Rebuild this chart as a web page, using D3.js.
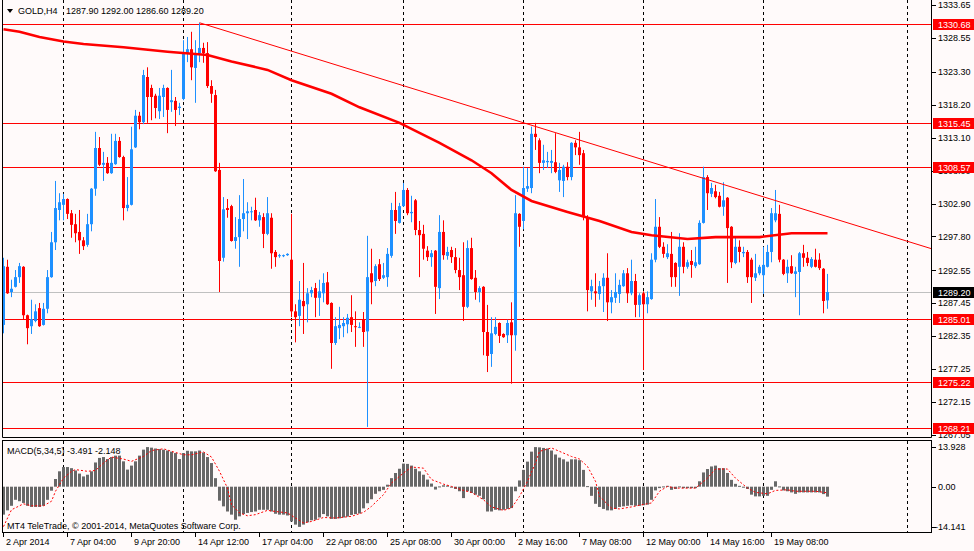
<!DOCTYPE html>
<html>
<head>
<meta charset="utf-8">
<script src="https://cdn.jsdelivr.net/npm/d3@7"></script>
<style>
body { margin: 0; background: #fffafa; }
svg text { font-family: "Liberation Sans", Arial, sans-serif; font-size: 9px; fill: #000; }
</style>
</head>
<body>
<svg id="chart" width="974" height="551"></svg>
<script>
// GOLD,H4 candles, one row per bar: [open, high, low, close].
const candles = [
[1284.1,1294.5,1282.8,1293.2],[1293.1,1294.2,1288.9,1289.0],[1289.2,1291.1,1288.4,1289.7],[1290.0,1292.6,1289.9,1291.5],
[1291.5,1293.7,1290.6,1293.2],[1293.1,1293.2,1285.0,1285.6],[1285.6,1285.7,1281.1,1283.6],[1283.9,1288.0,1282.7,1285.0],
[1284.7,1287.3,1284.5,1286.2],[1286.7,1287.5,1283.8,1283.9],[1284.1,1287.5,1284.0,1286.6],[1286.6,1292.6,1285.9,1291.5],
[1291.5,1298.5,1291.4,1296.9],[1296.9,1306.4,1295.7,1302.2],[1301.9,1304.5,1300.3,1303.1],[1302.7,1304.4,1300.3,1303.6],
[1303.6,1303.7,1300.5,1301.3],[1301.4,1301.9,1297.6,1299.6],[1299.7,1301.3,1296.9,1298.3],[1298.5,1301.9,1295.1,1297.2],
[1297.2,1297.7,1295.7,1296.3],[1296.5,1301.3,1296.2,1299.7],[1299.7,1305.3,1298.6,1305.2],[1305.2,1314.0,1304.1,1311.5],
[1311.5,1313.2,1308.7,1308.9],[1308.9,1310.9,1306.4,1309.2],[1309.2,1310.1,1307.5,1307.6],[1307.6,1313.7,1307.5,1309.2],
[1309.0,1313.7,1308.9,1312.6],[1312.6,1313.2,1310.0,1310.1],[1310.1,1310.3,1300.3,1302.2],[1302.2,1307.0,1301.7,1302.7],
[1302.7,1314.8,1302.6,1311.3],[1311.6,1317.4,1311.5,1316.5],[1316.5,1317.1,1314.4,1315.5],[1315.5,1323.6,1315.2,1322.8],
[1322.5,1324.0,1315.4,1319.4],[1320.8,1321.3,1315.8,1319.4],[1319.6,1319.9,1316.1,1317.7],[1317.2,1320.8,1316.0,1319.6],
[1319.4,1321.3,1316.3,1320.8],[1320.8,1320.9,1313.8,1317.4],[1318.6,1323.6,1317.1,1318.9],[1318.8,1319.4,1314.9,1317.4],
[1317.7,1318.5,1316.6,1317.9],[1319.1,1328.2,1318.9,1326.2],[1326.2,1328.7,1324.8,1326.8],[1326.8,1329.5,1322.0,1324.0],
[1323.9,1328.2,1318.5,1325.9],[1326.2,1330.9,1324.8,1327.0],[1327.0,1327.8,1324.7,1326.2],[1326.2,1327.9,1320.8,1321.1],
[1321.1,1322.0,1318.5,1319.9],[1319.7,1320.5,1307.8,1307.9],[1308.1,1309.2,1289.2,1294.0],[1294.5,1303.9,1293.9,1302.0],
[1302.2,1303.6,1300.7,1301.9],[1302.5,1302.7,1297.0,1297.1],[1297.1,1300.8,1295.9,1297.7],[1297.7,1304.2,1293.1,1300.5],
[1300.5,1306.7,1298.6,1301.4],[1301.4,1303.1,1297.4,1301.7],[1301.6,1302.4,1300.3,1301.7],[1301.9,1303.8,1300.2,1300.3],
[1300.3,1301.6,1299.3,1301.1],[1300.8,1301.4,1296.0,1298.2],[1298.2,1303.9,1298.0,1301.4],[1300.7,1301.4,1292.8,1295.2],
[1295.4,1295.7,1293.1,1294.6],[1294.8,1295.1,1294.5,1294.9],[1294.8,1295.0,1294.6,1294.9],[1294.9,1295.2,1294.8,1295.1],
[1294.2,1301.3,1285.3,1286.2],[1286.2,1287.3,1281.4,1285.3],[1285.5,1290.9,1283.9,1288.0],[1287.8,1293.7,1282.7,1287.0],
[1287.3,1289.8,1284.5,1289.0],[1289.0,1290.0,1288.4,1289.5],[1289.8,1290.6,1285.3,1288.3],[1288.3,1291.1,1285.5,1289.3],
[1289.0,1292.1,1287.6,1290.6],[1290.7,1292.3,1287.2,1287.3],[1287.5,1287.6,1277.3,1281.3],[1281.3,1285.3,1281.0,1283.9],
[1283.6,1286.9,1281.9,1284.1],[1283.9,1285.3,1282.2,1284.4],[1284.2,1285.8,1282.8,1285.2],[1285.3,1288.7,1283.0,1284.1],
[1283.9,1286.2,1280.7,1283.8],[1283.7,1284.5,1283.6,1283.8],[1285.0,1286.1,1280.7,1283.0],[1283.1,1297.9,1268.3,1291.5],
[1292.1,1295.9,1287.3,1290.7],[1290.9,1293.5,1290.1,1293.2],[1293.5,1294.3,1290.9,1291.2],[1291.4,1293.7,1291.2,1291.8],
[1291.5,1296.0,1290.0,1295.1],[1294.8,1303.0,1294.5,1301.9],[1301.9,1304.7,1298.2,1300.2],[1299.9,1303.0,1299.8,1302.5],
[1302.5,1306.1,1302.4,1305.0],[1305.0,1305.3,1301.1,1301.4],[1301.4,1304.1,1300.0,1301.6],[1303.4,1303.6,1298.0,1298.8],
[1298.8,1300.2,1291.5,1298.0],[1298.2,1299.6,1294.2,1295.9],[1295.6,1296.3,1294.0,1294.6],[1294.6,1295.7,1293.1,1295.2],
[1295.6,1295.7,1285.8,1290.0],[1289.8,1301.1,1288.1,1298.5],[1298.5,1300.3,1294.2,1294.9],[1294.8,1296.2,1294.2,1295.4],
[1295.7,1296.2,1293.7,1294.6],[1294.6,1296.0,1292.1,1292.6],[1292.6,1294.5,1289.5,1291.5],[1291.8,1296.9,1284.7,1286.9],
[1286.9,1297.2,1286.7,1296.0],[1296.0,1297.6,1291.1,1291.2],[1291.4,1292.6,1288.0,1289.2],[1289.2,1290.1,1287.6,1289.8],
[1290.0,1290.1,1279.4,1283.0],[1283.0,1287.2,1276.8,1279.3],[1279.6,1285.3,1277.6,1282.8],[1282.7,1285.3,1282.5,1283.8],
[1284.4,1284.5,1281.3,1282.4],[1282.7,1282.8,1282.1,1282.2],[1282.5,1284.9,1281.3,1284.4],[1284.5,1287.6,1275.0,1282.5],
[1282.5,1304.2,1280.1,1301.4],[1301.3,1301.4,1296.2,1299.3],[1300.2,1308.6,1298.9,1305.3],[1305.2,1308.4,1304.7,1305.6],
[1305.3,1314.8,1304.5,1313.7],[1313.7,1315.4,1311.2,1313.2],[1312.7,1313.0,1307.6,1309.2],[1309.2,1312.0,1308.1,1309.6],
[1309.3,1310.9,1308.4,1309.5],[1309.2,1311.2,1307.6,1309.5],[1309.3,1313.8,1307.6,1307.8],[1306.5,1309.2,1304.7,1308.1],
[1306.4,1308.9,1303.9,1308.6],[1308.6,1309.3,1306.5,1307.0],[1307.0,1312.4,1306.5,1312.3],[1312.3,1312.7,1310.4,1311.6],
[1311.6,1314.0,1308.9,1310.4],[1310.7,1311.2,1300.3,1300.8],[1300.8,1301.1,1286.2,1289.5],[1289.3,1291.1,1288.0,1290.1],
[1289.3,1292.1,1286.9,1289.0],[1288.9,1290.9,1288.0,1290.1],[1290.1,1292.1,1286.1,1291.4],[1291.4,1295.2,1284.7,1287.6],
[1287.6,1289.5,1285.9,1288.4],[1288.3,1292.1,1287.5,1289.2],[1288.9,1291.1,1287.5,1290.3],[1290.1,1292.6,1290.0,1292.1],
[1292.1,1292.9,1287.5,1289.0],[1289.0,1294.2,1288.7,1290.9],[1290.9,1292.0,1285.3,1287.2],[1287.2,1289.0,1285.3,1288.7],
[1289.0,1289.3,1277.1,1287.3],[1287.3,1289.3,1285.9,1288.4],[1288.1,1295.2,1288.0,1294.2],[1294.2,1303.6,1293.8,1299.3],
[1299.3,1300.8,1296.0,1296.2],[1296.2,1296.9,1294.5,1295.1],[1294.6,1296.6,1294.3,1295.2],[1295.1,1298.5,1290.0,1291.5],
[1293.7,1293.8,1290.0,1291.5],[1293.1,1298.3,1288.6,1296.2],[1296.2,1296.9,1292.1,1293.1],[1293.1,1294.2,1292.8,1293.8],
[1294.0,1295.7,1291.4,1293.4],[1293.2,1296.2,1292.9,1293.8],[1293.5,1300.3,1293.4,1299.9],[1299.9,1308.6,1299.8,1307.0],
[1307.0,1307.3,1301.9,1304.5],[1304.4,1306.1,1303.9,1305.3],[1304.8,1305.8,1303.7,1303.9],[1304.1,1304.7,1302.3,1302.4],
[1302.4,1306.2,1301.0,1303.4],[1303.8,1303.9,1290.6,1299.1],[1299.3,1299.4,1292.9,1293.8],[1293.7,1297.6,1293.5,1296.2],
[1296.2,1297.2,1293.8,1295.4],[1295.2,1296.2,1294.6,1295.4],[1295.4,1295.7,1290.6,1291.5],[1294.2,1294.5,1287.5,1291.5],
[1291.4,1295.1,1290.9,1292.1],[1292.1,1293.4,1291.8,1293.1],[1291.8,1296.2,1288.9,1293.4],[1293.1,1296.5,1293.0,1295.4],
[1295.4,1302.2,1293.8,1301.4],[1300.3,1305.0,1300.0,1301.4],[1301.3,1302.7,1293.8,1294.2],[1294.2,1294.3,1291.8,1292.0],
[1292.1,1294.2,1290.6,1293.1],[1293.2,1294.9,1292.0,1292.1],[1292.0,1293.1,1288.4,1292.4],[1292.3,1295.4,1285.6,1295.2],
[1295.2,1296.5,1293.1,1294.5],[1294.5,1295.4,1293.2,1293.7],[1293.1,1294.6,1292.9,1294.3],[1294.2,1295.9,1293.0,1293.1],
[1294.2,1295.2,1292.6,1292.9],[1292.8,1292.9,1285.9,1287.8],[1287.9,1292.0,1286.6,1289.2]
];

// Moving average (thick red), sampled at bar indexes.
const maIdx = [0,4,9,15,20,30,41,51,57,66,72,82,89,99,109,117,122,127,132,141,149,157,162,171,178,189,197,206];
const maVal = [1329.9,1329.5,1328.7,1328.0,1327.6,1327.1,1326.4,1325.9,1324.9,1323.6,1322.0,1319.9,1317.8,1315.4,1312.3,
  1309.6,1307.6,1305.0,1303.3,1301.6,1300.2,1298.5,1298.0,1297.4,1297.7,1297.7,1298.3,1298.3];

// Trend line anchors (bar index, price).
const trendIdx = [49, 232];
const trendVal = [1330.9, 1295.9];

// Horizontal levels and the bid line.
const levels = [1330.68, 1315.45, 1308.57, 1285.01, 1275.22, 1268.21];
const bid = 1289.20;

// MACD(5,34,5) histogram, one value per bar.
const macdHist = [
-9.8,-8.3,-6.7,-4.6,-5.1,-5.7,-6.7,-7.1,-7.1,-7.1,-6.7,-4.6,-1.4,
2.7,5.4,6.9,6.9,6.5,5.7,4.6,3.6,4.2,5.4,
8.5,10.1,10.4,9.7,10.4,10.9,10.9,8.9,6.0,7.4,8.9,10.9,
13.0,13.9,13.7,13.4,13.2,13.0,12.7,12.3,11.8,9.7,11.8,12.6,12.4,12.4,12.7,12.0,10.4,8.3,3.0,
-4.9,-6.9,-8.7,-9.8,-11.6,-10.4,-9.6,-9.2,-8.9,-8.7,-8.1,-8.1,-8.1,-8.7,-9.5,-9.8,-9.8,-10.1,-12.2,-13.3,-14.1,-13.3,-12.5,-11.8,-11.6,-10.8,-9.6,-10.4,
-11.3,-11.3,-11.1,-10.8,-10.5,-9.9,-9.6,-9.4,-7.6,-5.8,-4.4,-2.5,-1.6,-1.1,
0.7,3.0,4.8,6.3,8.1,8.0,7.4,6.3,5.4,4.2,2.5,1.1,
-1.0,0.1,0.5,0.4,-0.2,-0.8,-1.6,-4.0,-1.6,-2.2,-2.8,-3.2,-4.4,
-8.7,-8.7,-8.1,-8.3,-8.1,-7.8,-7.5,-1.6,
2.2,5.9,8.8,12.3,13.9,13.8,13.6,13.4,12.7,11.3,10.2,9.6,8.8,9.6,9.6,9.3,5.9,0.2,
-3.2,-6.0,-7.1,-7.8,-8.3,-8.3,-7.8,-7.1,-6.9,-6.7,-6.5,-6.7,-6.7,-6.5,-6.3,
-4.6,-1.3,-0.5,0.1,0.3,-1.1,-0.8,0.1,-0.5,-0.5,-0.5,-0.5,
1.9,5.0,6.2,7.1,7.4,6.5,6.5,4.8,2.4,1.0,0.3,
-0.3,-0.8,-2.8,-3.4,-3.4,-3.2,-3.2,-1.1,1.9,
0.1,-1.3,-1.6,-2.0,-2.5,-2.0,-2.0,-2.0,-2.0,-2.0,-2.0,-2.6,-3.49
];

// MACD signal line (red dotted), sampled at bar indexes.
const sigIdx = [0,2,5,7,10,12,13,15,17,18,21,23,25,27,30,32,35,37,40,42,45,47,50,52,54,56,57,59,61,63,66,68,71,73,75,77,80,83,87,90,
  92,95,97,100,102,105,107,110,112,115,117,120,122,125,127,129,131,133,134,137,139,142,144,146,148,149,152,154,157,159,
  162,164,166,168,171,173,176,178,181,183,186,188,191,193,196,198,201,203,206];
const sigVal = [-14.0,-8.1,-6.0,-6.7,-6.7,-5.1,-1.6,3.0,5.4,6.0,5.4,5.7,8.3,10.4,9.7,8.9,10.6,12.7,13.3,12.4,11.2,11.2,12.2,10.4,5.4,
  -0.5,-6.3,-9.2,-10.2,-9.8,-8.3,-8.7,-9.2,-11.0,-12.7,-12.2,-10.8,-11.0,-10.4,-9.0,-6.9,-2.8,1.3,4.8,6.9,6.5,2.5,0.9,0.1,-1.3,
  -2.0,-4.6,-7.1,-8.3,-7.5,-3.4,1.9,8.3,12.4,13.6,12.4,10.6,9.7,7.1,1.9,-3.4,-7.5,-7.8,-7.1,-6.5,-5.7,-1.6,0.1,-0.5,-0.5,
  -0.5,3.0,6.2,6.2,3.0,-0.5,-2.0,-2.5,-1.3,-1.1,-1.6,-1.6,-1.6,-2.15];

// Axis ticks.
const priceTicks = [1333.65,1328.55,1323.30,1318.20,1313.10,1308.00,1302.90,1297.80,1292.55,1287.45,1282.35,1277.25,1272.15,1267.05];
const macdTicks = [13.928, 0, -14.141];
const macdTickText = ["13.928", "0.00", "-14.141"];
const timeIdx = [0,16,32,48,64,80,96,112,128,144,160,176,192];
const timeText = ["2 Apr 2014","7 Apr 04:00","9 Apr 20:00","14 Apr 12:00","17 Apr 04:00","22 Apr 08:00","25 Apr 08:00",
  "30 Apr 00:00","2 May 16:00","7 May 08:00","12 May 00:00","14 May 16:00","19 May 08:00"];
const gridIdx = [15,45,72,100,130,160,190,226];

const header = "GOLD,H4";
const headerOhlc = "1287.90 1292.00 1286.60 1289.20";
const macdTitle = "MACD(5,34,5) -3.491 -2.148";
const copyright = "MT4 TeleTrade, \u00a9 2001-2014, MetaQuotes Software Corp.";


const svg = d3.select("#chart");
const left = 2, right = 932;
const mainTop = 0, mainBottom = 438, macdTop = 441, macdBottom = 533;
const bull = "#1e90ff", bear = "#ff0000";

const x = d3.scaleLinear().domain([0, 206]).range([3.5, 827.5]);
const y = d3.scaleLinear().domain([1267.05, 1333.65]).range([435, 5]);
const ym = d3.scaleLinear().domain([-14.141, 13.928]).range([527, 447]);

svg.append("rect").attr("width", 974).attr("height", 551).attr("fill", "#fffafa");

let defs = svg.append("defs");
defs.append("clipPath").attr("id", "clipMain").append("rect")
  .attr("x", left).attr("y", mainTop).attr("width", right - left).attr("height", mainBottom - mainTop);
defs.append("clipPath").attr("id", "clipMacd").append("rect")
  .attr("x", left).attr("y", macdTop).attr("width", right - left).attr("height", macdBottom - macdTop);

// Vertical dashed grid in both panes.
[[mainTop, mainBottom], [macdTop, macdBottom]].forEach(([t, b]) => {
  svg.append("g").selectAll("line").data(gridIdx).join("line")
    .attr("x1", d => x(d)).attr("x2", d => x(d))
    .attr("y1", t).attr("y2", b)
    .attr("stroke", "#000").attr("stroke-dasharray", "3,3");
});

let main = svg.append("g").attr("clip-path", "url(#clipMain)");

// Bid line and levels.
main.append("line")
  .attr("x1", left).attr("x2", right).attr("y1", Math.round(y(bid)) + 0.5).attr("y2", Math.round(y(bid)) + 0.5)
  .attr("stroke", "#c0c0c0");
main.append("g").selectAll("line").data(levels).join("line")
  .attr("x1", left).attr("x2", right)
  .attr("y1", d => Math.round(y(d)) + 0.5).attr("y2", d => Math.round(y(d)) + 0.5)
  .attr("stroke", "#ff0000");

// Candles.
let cg = main.append("g").selectAll("g").data(candles).join("g");
cg.append("line")
  .attr("x1", (d, i) => x(i)).attr("x2", (d, i) => x(i))
  .attr("y1", d => y(d[1])).attr("y2", d => y(d[2]))
  .attr("stroke", d => d[3] >= d[0] ? bull : bear);
cg.append("rect")
  .attr("x", (d, i) => x(i) - 1.5).attr("width", 3)
  .attr("y", d => y(Math.max(d[0], d[3])))
  .attr("height", d => Math.max(1, Math.abs(y(d[0]) - y(d[3]))))
  .attr("fill", d => d[3] >= d[0] ? bull : bear);

// Moving average.
main.append("path")
  .datum(maIdx.map((d, i) => [d, maVal[i]]))
  .attr("d", d3.line().x(d => x(d[0])).y(d => y(d[1])))
  .attr("fill", "none").attr("stroke", "#ff0000").attr("stroke-width", 2.6);

// Trend line.
main.append("line")
  .attr("x1", x(trendIdx[0])).attr("y1", y(trendVal[0]))
  .attr("x2", x(trendIdx[1])).attr("y2", y(trendVal[1]))
  .attr("stroke", "#ff0000").attr("stroke-width", 1);

// MACD pane.
let macd = svg.append("g").attr("clip-path", "url(#clipMacd)");
macd.append("g").selectAll("rect").data(macdHist).join("rect")
  .attr("x", (d, i) => x(i) - 1.5).attr("width", 3)
  .attr("y", d => Math.min(ym(0), ym(d)))
  .attr("height", d => Math.max(1, Math.abs(ym(d) - ym(0))))
  .attr("fill", "#686868");
macd.append("path")
  .datum(sigIdx.map((d, i) => [d, sigVal[i]]))
  .attr("d", d3.line().x(d => x(d[0])).y(d => ym(d[1])))
  .attr("fill", "none").attr("stroke", "#ff0000").attr("stroke-dasharray", "2,2");

// Frames.
let frame = svg.append("g").attr("stroke", "#000").attr("fill", "none");
frame.append("path").attr("d", `M${left + 0.5},${mainTop}V${mainBottom - 0.5}H${right - 0.5}V${mainTop}`);
frame.append("rect").attr("x", left + 0.5).attr("y", macdTop - 0.5)
  .attr("width", right - left - 1).attr("height", macdBottom - macdTop);

// Price axis.
let pa = svg.append("g");
pa.selectAll("line").data(priceTicks).join("line")
  .attr("x1", right).attr("x2", right + 4)
  .attr("y1", d => Math.round(y(d)) + 0.5).attr("y2", d => Math.round(y(d)) + 0.5)
  .attr("stroke", "#000");
pa.selectAll("text").data(priceTicks).join("text")
  .attr("x", right + 6).attr("y", d => y(d)).attr("dy", "0.35em")
  .text(d => d.toFixed(2));

// Level labels.
let lb = svg.append("g").selectAll("g").data(levels.map(v => [v, "#ff0000"]).concat([[bid, "#000"]])).join("g");
lb.append("rect")
  .attr("x", right + 1).attr("width", 974 - right - 1)
  .attr("y", d => Math.round(y(d[0])) - 5).attr("height", 11)
  .attr("fill", d => d[1]);
lb.append("text")
  .attr("x", right + 6).attr("y", d => Math.round(y(d[0])) + 0.5).attr("dy", "0.35em")
  .style("fill", "#fff")
  .text(d => d[0].toFixed(2));

// MACD axis.
let ma = svg.append("g");
ma.selectAll("line").data(macdTicks).join("line")
  .attr("x1", right).attr("x2", right + 4)
  .attr("y1", d => Math.round(ym(d)) + 0.5).attr("y2", d => Math.round(ym(d)) + 0.5)
  .attr("stroke", "#000");
ma.selectAll("text").data(macdTicks).join("text")
  .attr("x", (d, i) => right + (d < 0 ? 3 : 6)).attr("y", d => ym(d)).attr("dy", "0.35em")
  .text((d, i) => macdTickText[i]);

// Time axis.
let ta = svg.append("g");
ta.selectAll("line").data(timeIdx).join("line")
  .attr("x1", d => x(d)).attr("x2", d => x(d))
  .attr("y1", macdBottom).attr("y2", macdBottom + 4)
  .attr("stroke", "#000");
ta.selectAll("text").data(timeIdx).join("text")
  .attr("x", d => x(d) + 2.5).attr("y", 545)
  .text((d, i) => timeText[i]);

// Header and pane captions.
svg.append("path").attr("d", "M7,9H13L10,13Z").attr("fill", "#000");
svg.append("text").attr("x", 18).attr("y", 14).text(header);
svg.append("text").attr("x", 66).attr("y", 14).text(headerOhlc);
svg.append("text").attr("x", 7).attr("y", 454).text(macdTitle);
svg.append("text").attr("x", 7).attr("y", 529).text(copyright);
</script>
</body>
</html>
